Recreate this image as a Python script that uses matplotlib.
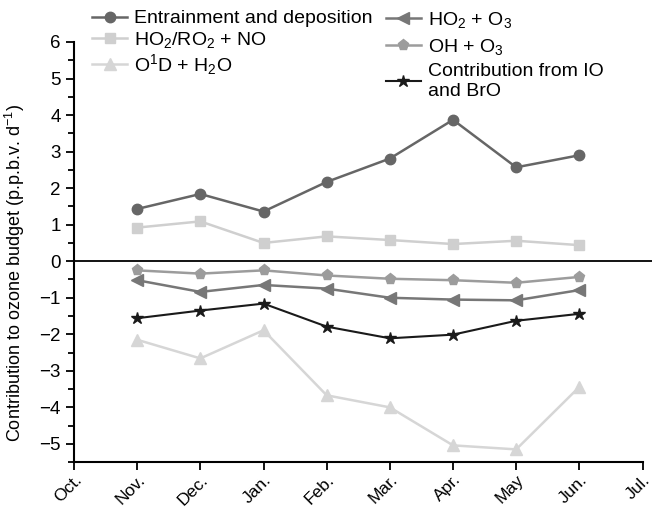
import matplotlib
matplotlib.use("Agg")
import matplotlib.pyplot as plt
from matplotlib.ticker import MultipleLocator

plt.rcParams.update({'font.family': ['Liberation Sans', 'DejaVu Sans']})
plt.rcParams.update({'font.size': 13.5})
plt.rcParams.update({'mathtext.default': 'regular'})

# months on the x axis
months = ["Oct.", "Nov.", "Dec.", "Jan.", "Feb.", "Mar.", "Apr.", "May", "Jun.", "Jul."]
data_months = [1, 2, 3, 4, 5, 6, 7, 8]

# ozone budget terms (p.p.b.v. per day), Nov. - Jun.
entrainment = [1.43, 1.84, 1.36, 2.17, 2.81, 3.87, 2.57, 2.90]
ho2_ro2_no = [0.92, 1.09, 0.50, 0.68, 0.58, 0.47, 0.56, 0.44]
o1d_h2o = [-2.15, -2.66, -1.89, -3.67, -4.00, -5.04, -5.15, -3.44]
ho2_o3 = [-0.52, -0.84, -0.65, -0.75, -1.00, -1.05, -1.07, -0.79]
oh_o3 = [-0.25, -0.34, -0.25, -0.39, -0.48, -0.52, -0.59, -0.43]
io_bro = [-1.56, -1.35, -1.16, -1.79, -2.11, -2.01, -1.63, -1.44]

fig = plt.figure(figsize=(6.52, 5.09), dpi=100, facecolor="white")
ax = fig.add_axes([0.1135, 0.092, 0.8865, 0.8255])

l1, = ax.plot(data_months, entrainment, '-o', color='#666666', lw=1.8, ms=7.5,
              label="Entrainment and deposition")
l2, = ax.plot(data_months, ho2_ro2_no, '-s', color='#cfcfcf', lw=1.8, ms=7.5,
              label="HO$_2$/RO$_2$ + NO")
l3, = ax.plot(data_months, o1d_h2o, '-^', color='#d6d6d6', lw=1.8, ms=8,
              label="O$^1$D + H$_2$O")
l4, = ax.plot(data_months, ho2_o3, '-<', color='#777777', lw=1.8, ms=8,
              label="HO$_2$ + O$_3$")
l5, = ax.plot(data_months, oh_o3, '-p', color='#9c9c9c', lw=1.8, ms=8,
              label="OH + O$_3$")
l6, = ax.plot(data_months, io_bro, '-*', color='#1a1a1a', lw=1.5, ms=9,
              label="Contribution from IO\nand BrO")

ax.axhline(0, color='black', lw=1.3, zorder=0)

ax.set_xlim(0, 9.15)
ax.set_ylim(-5.5, 6)
ax.set_xticks(range(len(months)))
ax.set_xticklabels(months, rotation=45, ha='right', rotation_mode='anchor')
ax.yaxis.set_major_locator(MultipleLocator(1))
ax.yaxis.set_minor_locator(MultipleLocator(0.5))
ax.tick_params(axis='both', which='major', direction='out', length=6, width=1.3, labelsize=13.5)
ax.tick_params(axis='x', which='major', pad=1, labelsize=12.5)
ax.tick_params(axis='y', which='minor', direction='out', length=4, width=1.3)
ax.spines['top'].set_visible(False)
ax.spines['right'].set_visible(False)
ax.spines['left'].set_linewidth(1.5)
ax.spines['bottom'].set_linewidth(1.5)
ax.spines['bottom'].set_bounds(0, 9)
ax.set_ylabel("Contribution to ozone budget (p.p.b.v. d$^{-1}$)", fontsize=13)
ax.yaxis.set_label_coords(-0.082, 0.45)

leg1 = fig.legend(handles=[l1, l2, l3], loc='upper left', bbox_to_anchor=(0.115, 1.015),
                  frameon=False, handlelength=1.8, handletextpad=0.35,
                  labelspacing=0.12, fontsize=14)
leg2 = fig.legend(handles=[l4, l5, l6], loc='upper left', bbox_to_anchor=(0.565, 1.015),
                  frameon=False, handlelength=1.8, handletextpad=0.35,
                  labelspacing=0.35, fontsize=14)

plt.savefig("out.png", dpi=100, facecolor="white")
plt.close('all')
